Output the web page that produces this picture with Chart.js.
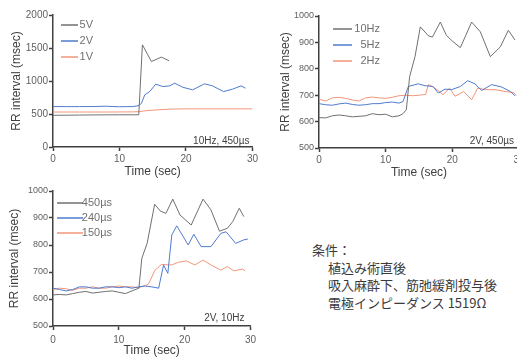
<!DOCTYPE html>
<html>
<head>
<meta charset="utf-8">
<script src="https://cdn.jsdelivr.net/npm/chart.js@4/dist/chart.umd.min.js"></script>
<style>
  html, body { margin: 0; padding: 0; background: #fff; }
  body { width: 517px; height: 357px; overflow: hidden; position: relative; }
  canvas { position: absolute; }
  #cond { position: absolute; left: 312px; top: 241px; font-family: "Noto Sans CJK JP", sans-serif;
          font-size: 13px; color: #3a3a3a; line-height: 17.5px; }
  #cond .ind { padding-left: 16px; }
</style>
</head>
<body>
<canvas id="c1" width="260" height="180" style="left:0;top:0"></canvas>
<canvas id="c2" width="290" height="180" style="left:258px;top:0"></canvas>
<canvas id="c3" width="260" height="182" style="left:0;top:175px"></canvas>
<div id="cond">
  <div>条件：</div>
  <div class="ind">植込み術直後</div>
  <div class="ind">吸入麻酔下、筋弛緩剤投与後</div>
  <div class="ind">電極インピーダンス 1519Ω</div>
</div>
<script>
// Time axis (sec) and RR interval (msec) for each stimulation setting

// Panel 1: output voltage (10Hz, 450µs)
const t5V = [0, 2, 4, 6, 8, 10, 12, 12.9, 13.45, 14.8, 16.3, 17.45];
const rr5V = [480, 482, 484, 486, 487, 488, 488, 488, 1549, 1295, 1362, 1306];
const t2V = [0, 2, 4, 6, 8, 9, 10, 12, 12.8, 13.3, 13.8, 14.55, 15.45, 16.5, 17.55, 18.3, 19.5, 21.0, 22.8, 24.0, 25.65, 27.0, 28.3, 28.95];
const rr2V = [612, 612, 612, 613, 618, 613, 610, 612, 625, 660, 790, 840, 952, 916, 926, 967, 906, 866, 957, 926, 840, 876, 926, 891];
const t1V = [0, 4, 8, 12, 13, 14, 16, 18, 20, 25, 30];
const rr1V = [530, 530, 530, 532, 536, 550, 565, 575, 578, 578, 578];

// Panel 2: frequency (2V, 450µs)
const t10Hz = [0, 1, 2, 3, 4, 5, 6, 7, 8, 9, 10, 11, 12, 12.6, 13.1, 13.6, 14.4, 15.2, 16.4, 17.0, 18.2, 19.1, 20.0, 21.2, 22.9, 24.2, 25.7, 27.2, 28.4, 29.4];
const rr10Hz = [615, 614, 622, 625, 622, 618, 620, 622, 630, 626, 628, 618, 622, 630, 645, 771, 846, 959, 925, 920, 977, 927, 905, 880, 977, 940, 846, 883, 946, 909];
const t5Hz = [0, 1, 2, 3, 4, 5, 6, 7, 8, 9, 10, 11, 12, 12.6, 13.4, 14.9, 15.9, 17.1, 17.9, 18.9, 19.9, 21.2, 22.3, 23.4, 24.4, 25.9, 27.4, 28.7, 29.4];
const rr5Hz = [668, 664, 662, 667, 670, 665, 662, 664, 668, 668, 672, 674, 670, 676, 733, 743, 736, 733, 708, 723, 721, 733, 755, 743, 718, 740, 731, 714, 698];
const t2Hz = [0, 1, 2, 3, 4, 5, 6, 7, 8, 9, 10, 11, 12, 13, 14, 15, 16, 16.4, 17.2, 18.0, 18.6, 19.6, 20.4, 21.7, 22.9, 23.8, 24.9, 26.4, 27.9, 29.2, 29.6];
const rr2Hz = [685, 678, 690, 692, 688, 682, 678, 690, 693, 690, 688, 692, 698, 700, 698, 700, 703, 740, 730, 715, 702, 727, 696, 714, 683, 727, 721, 721, 714, 710, 698];

// Panel 3: pulse width (2V, 10Hz)
const t450 = [0, 1, 2, 3, 4, 5, 6, 7, 8, 9, 10, 11, 12, 13.05, 13.5, 14.3, 15.45, 16.3, 17.15, 18.2, 19.3, 21.0, 22.8, 24.0, 25.3, 26.5, 27.3, 28.3, 29.0];
const rr450 = [615, 617, 615, 620, 625, 628, 622, 625, 628, 630, 625, 620, 630, 640, 751, 806, 951, 926, 917, 970, 911, 874, 970, 930, 851, 862, 886, 936, 905];
const t240 = [0, 1, 2, 3, 4, 5, 6, 7, 8, 9, 10, 11, 12, 13, 14, 15, 16.05, 16.8, 17.45, 18.05, 18.8, 20.55, 21.4, 22.5, 24.0, 25.5, 26.3, 27.75, 29.0, 29.6];
const rr240 = [640, 635, 630, 635, 645, 645, 640, 640, 645, 645, 642, 645, 640, 645, 648, 645, 640, 726, 695, 837, 871, 800, 840, 794, 794, 843, 849, 806, 819, 822];
const t150 = [0, 1, 2, 3, 4, 5, 6, 7, 8, 9, 10, 11, 12, 13, 14, 14.5, 15.5, 16.5, 18.0, 19.05, 20.3, 21.55, 22.8, 24.0, 25.5, 26.5, 27.5, 28.8, 29.2];
const rr150 = [635, 640, 638, 632, 640, 640, 645, 640, 640, 645, 648, 645, 645, 642, 650, 655, 707, 728, 726, 736, 741, 726, 744, 726, 707, 720, 704, 711, 704];

// Axis ranges and labels
const timeTicks = [0, 10, 20, 30];
const xTitle = 'Time (sec)';
const yTitle = 'RR interval (msec)';

const GRAY = '#707070', BLUE = '#4f7bcf', ORANGE = '#f2967a', AXIS = '#404040';
const FONT = '"Liberation Sans", Arial, sans-serif';

const pts = (t, v) => t.map((x, i) => ({ x, y: v[i] }));
const series = (label, t, v, color) => ({
  label, data: pts(t, v), borderColor: color, backgroundColor: color,
  borderWidth: 1, pointRadius: 0, tension: 0, fill: false
});

// Inline legend (line sample + right-aligned label) and a corner note in the plot area
const panelDecor = {
  id: 'panelDecor',
  afterDraw(chart, args, o) {
    const { ctx, chartArea: a } = chart;
    ctx.save();
    ctx.font = '11px ' + FONT;
    ctx.textBaseline = 'middle';
    chart.data.datasets.forEach((ds, i) => {
      const y = a.top + o.rowTop + i * o.rowGap;
      ctx.strokeStyle = ds.borderColor;
      ctx.lineWidth = 1.5;
      ctx.beginPath();
      ctx.moveTo(a.left + o.lineFrom, y);
      ctx.lineTo(a.left + o.lineTo, y);
      ctx.stroke();
      ctx.fillStyle = '#707070';
      ctx.textAlign = 'right';
      ctx.fillText(ds.label, a.left + o.textRight, y);
    });
    ctx.font = '10px ' + FONT;
    ctx.fillStyle = '#404040';
    ctx.textAlign = 'right';
    ctx.fillText(o.note, a.right - o.noteRight, a.bottom - o.noteBottom);
    ctx.restore();
  }
};

function makePanel(id, datasets, yMin, yMax, yStep, L) {
  new Chart(document.getElementById(id), {
    type: 'line',
    data: { datasets },
    plugins: [panelDecor],
    options: {
      responsive: false,
      animation: false,
      devicePixelRatio: 1,
      layout: { padding: { left: 0, top: L.top, right: L.right, bottom: 0 } },
      plugins: {
        legend: { display: false },
        tooltip: { enabled: false },
        panelDecor: L.decor
      },
      scales: {
        x: {
          type: 'linear', min: 0, max: 30,
          afterFit: s => { s.height = L.xH; },
          afterBuildTicks: s => { s.ticks = timeTicks.map(v => ({ value: v })); },
          border: { color: AXIS, width: 1.5 },
          grid: { drawOnChartArea: false, drawTicks: true, tickLength: 4, color: AXIS, tickWidth: 1.5 },
          ticks: { font: { family: FONT, size: 10 }, color: '#606060', padding: L.xPad, maxRotation: 0,
                   callback: v => String(v) },
          title: { display: true, text: xTitle, color: '#404040',
                   font: { family: FONT, size: 12, lineHeight: 1 }, padding: { top: 0, bottom: L.xTitlePad } }
        },
        y: {
          type: 'linear', min: yMin, max: yMax,
          afterFit: s => { s.width = L.yW; },
          border: { color: AXIS, width: 1.5 },
          grid: { drawOnChartArea: false, drawTicks: true, tickLength: 4, color: AXIS, tickWidth: 1.5 },
          ticks: { stepSize: yStep, font: { family: FONT, size: L.yFont }, color: '#606060', padding: 1,
                   callback: v => String(v) },
          title: { display: true, text: yTitle, color: '#404040',
                   font: { family: FONT, size: 12, lineHeight: 1 }, padding: { top: L.yTitlePad, bottom: 0 } }
        }
      }
    }
  });
}

makePanel('c1', [
  series('5V', t5V, rr5V, GRAY),
  series('2V', t2V, rr2V, BLUE),
  series('1V', t1V, rr1V, ORANGE)
], 0, 2000, 500, {
  top: 15, right: 7, xH: 33, yW: 53, xPad: 2, xTitlePad: 2, yTitlePad: 11, yFont: 10,
  decor: { lineFrom: 8, lineTo: 25, textRight: 40, rowTop: 10, rowGap: 16, note: '10Hz, 450µs', noteRight: 3, noteBottom: 6 }
});

makePanel('c2', [
  series('10Hz', t10Hz, rr10Hz, GRAY),
  series('5Hz', t5Hz, rr5Hz, BLUE),
  series('2Hz', t2Hz, rr2Hz, ORANGE)
], 500, 1000, 100, {
  top: 16, right: 29, xH: 32, yW: 61, xPad: 2, xTitlePad: 1, yTitlePad: 22, yFont: 9,
  decor: { lineFrom: 14, lineTo: 33, textRight: 61, rowTop: 13, rowGap: 16, note: '2V, 450µs', noteRight: 5, noteBottom: 7 }
});

makePanel('c3', [
  series('450µs', t450, rr450, GRAY),
  series('240µs', t240, rr240, BLUE),
  series('150µs', t150, rr150, ORANGE)
], 500, 1000, 100, {
  top: 16, right: 7, xH: 31, yW: 53, xPad: 4, xTitlePad: 0, yTitlePad: 9, yFont: 9,
  decor: { lineFrom: 4, lineTo: 30, textRight: 59, rowTop: 12, rowGap: 15, note: '2V, 10Hz', noteRight: 6, noteBottom: 8 }
});
</script>
</body>
</html>
